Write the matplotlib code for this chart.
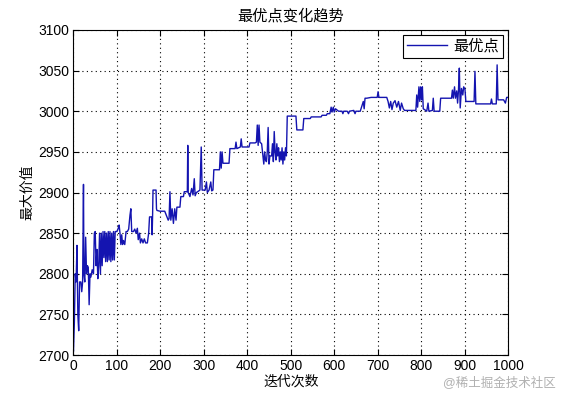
import matplotlib
matplotlib.use("Agg")
import matplotlib.pyplot as plt
import numpy as np

plt.rcParams['font.family'] = ['Liberation Sans', 'Noto Sans CJK SC', 'DejaVu Sans']

# best value at selected iterations
iters = [0, 2, 4, 6, 8, 10, 12, 14, 17, 19, 21, 23, 24, 26, 28, 30, 32, 34, 36, 38,
         40, 43, 46, 48, 50, 52, 54, 56, 58, 60, 62, 64, 66, 68, 70, 72, 74, 76, 78, 80,
         82, 84, 86, 88, 90, 92, 94, 96, 100, 103, 105, 107, 109, 111, 113, 115, 118, 121, 124, 127,
         130, 132, 134, 138, 141, 144, 147, 149, 152, 154, 157, 160, 163, 166, 170, 173, 175, 180, 181, 182,
         183, 190, 191, 192, 199, 205, 210, 218, 220, 222, 224, 227, 230, 233, 236, 238, 245, 247, 253, 255,
         262, 263, 264, 268, 272, 275, 278, 280, 283, 291, 294, 296, 303, 306, 308, 312, 316, 318, 321, 323,
         336, 338, 340, 342, 344, 358, 360, 372, 374, 376, 384, 386, 388, 404, 406, 418, 421, 423, 425, 427,
         429, 433, 436, 438, 440, 442, 444, 446, 448, 450, 452, 456, 458, 460, 462, 464, 466, 468, 470, 472,
         474, 476, 478, 480, 482, 484, 486, 488, 490, 492, 512, 514, 528, 530, 545, 547, 570, 572, 582, 584,
         590, 593, 595, 598, 600, 603, 610, 618, 620, 622, 630, 633, 635, 645, 648, 650, 660, 663, 667, 669,
         671, 675, 685, 699, 701, 703, 721, 724, 727, 730, 733, 736, 740, 744, 748, 752, 755, 759, 762, 788,
         790, 792, 795, 797, 799, 801, 803, 805, 808, 813, 816, 818, 826, 828, 830, 843, 845, 870, 872, 874,
         877, 879, 882, 884, 886, 888, 890, 893, 896, 898, 901, 903, 905, 920, 922, 924, 926, 960, 962, 964,
         973, 975, 977, 990, 994, 997, 1000]
best = [2705, 2740, 2800, 2790, 2835, 2750, 2730, 2790, 2790, 2778, 2790, 2910, 2800, 2790, 2845, 2800, 2810, 2808, 2762, 2800,
        2796, 2805, 2800, 2850, 2852, 2810, 2830, 2794, 2810, 2850, 2800, 2850, 2810, 2852, 2820, 2852, 2815, 2850, 2815, 2852,
        2817, 2852, 2815, 2850, 2817, 2852, 2817, 2852, 2852, 2856, 2860, 2850, 2836, 2848, 2836, 2841, 2836, 2852, 2852, 2855,
        2872, 2880, 2852, 2852, 2855, 2850, 2856, 2842, 2850, 2838, 2843, 2838, 2843, 2838, 2838, 2850, 2870, 2870, 2848, 2870,
        2903, 2903, 2880, 2878, 2877, 2877, 2877, 2866, 2868, 2901, 2866, 2880, 2862, 2880, 2866, 2882, 2882, 2895, 2895, 2901,
        2901, 2958, 2900, 2895, 2905, 2897, 2917, 2896, 2900, 2903, 2956, 2903, 2903, 2913, 2900, 2903, 2913, 2902, 2903, 2928,
        2928, 2950, 2930, 2950, 2936, 2936, 2954, 2954, 2962, 2954, 2956, 2966, 2956, 2956, 2961, 2961, 2962, 2983, 2958, 2983,
        2962, 2960, 2945, 2935, 2950, 2940, 2938, 2950, 2980, 2935, 2945, 2945, 2960, 2938, 2975, 2950, 2940, 2960, 2945, 2955,
        2938, 2950, 2940, 2955, 2935, 2950, 2940, 2955, 2945, 2994, 2994, 2977, 2977, 2991, 2991, 2993, 2993, 2995, 2995, 2997,
        2997, 3005, 2999, 3005, 2999, 3003, 3000, 3000, 2997, 3000, 3000, 2997, 3000, 3001, 2997, 3000, 3000, 3005, 3012, 3003,
        3016, 3016, 3017, 3017, 3024, 3017, 3017, 3012, 3004, 3012, 3002, 3010, 3013, 3005, 3012, 3001, 3010, 3003, 3001, 3001,
        3020, 3005, 3030, 3012, 3030, 3014, 3030, 3003, 3002, 3000, 3010, 3000, 3001, 3016, 3000, 3000, 3016, 3016, 3026, 3016,
        3030, 3016, 3025, 3010, 3025, 3053, 3004, 3028, 3020, 3030, 3027, 3012, 3012, 3012, 3012, 3049, 3009, 3009, 3015, 3009,
        3009, 3057, 3014, 3014, 3010, 3017, 3017]

x_ticks = [0, 100, 200, 300, 400, 500, 600, 700, 800, 900, 1000]
y_ticks = [2700, 2750, 2800, 2850, 2900, 2950, 3000, 3050, 3100]

fig = plt.figure(figsize=(5.61, 3.99), dpi=100)
ax = fig.add_axes([0.131, 0.110, 0.7745, 0.815])

ax.plot(iters, best, color='#1414b0', linewidth=1.0, label='最优点')

ax.set_xlim(0, 1000)
ax.set_ylim(2700, 3100)
ax.set_xticks(x_ticks)
ax.set_yticks(y_ticks)
ax.tick_params(direction='in', top=True, right=True, labelsize=10, length=4, pad=3)
ax.grid(True, linestyle=(0, (1, 3)), color='black', linewidth=0.8)
for sp in ax.spines.values():
    sp.set_linewidth(0.8)

ax.set_title('最优点变化趋势', fontsize=11, pad=7)
ax.set_xlabel('迭代次数', fontsize=10, labelpad=1)
ax.set_ylabel('最大价值', fontsize=10, labelpad=3)

leg = ax.legend(loc='upper right', fontsize=11, fancybox=False, framealpha=1,
                edgecolor='black', handlelength=2.6, handletextpad=0.4,
                borderaxespad=0.3, borderpad=0.3)
leg.get_frame().set_linewidth(0.8)

fig.text(0.99, 0.025, '@稀土掘金技术社区', ha='right', va='bottom',
         fontsize=9, color='#b0b0b0')

fig.savefig('out.png', dpi=100)
